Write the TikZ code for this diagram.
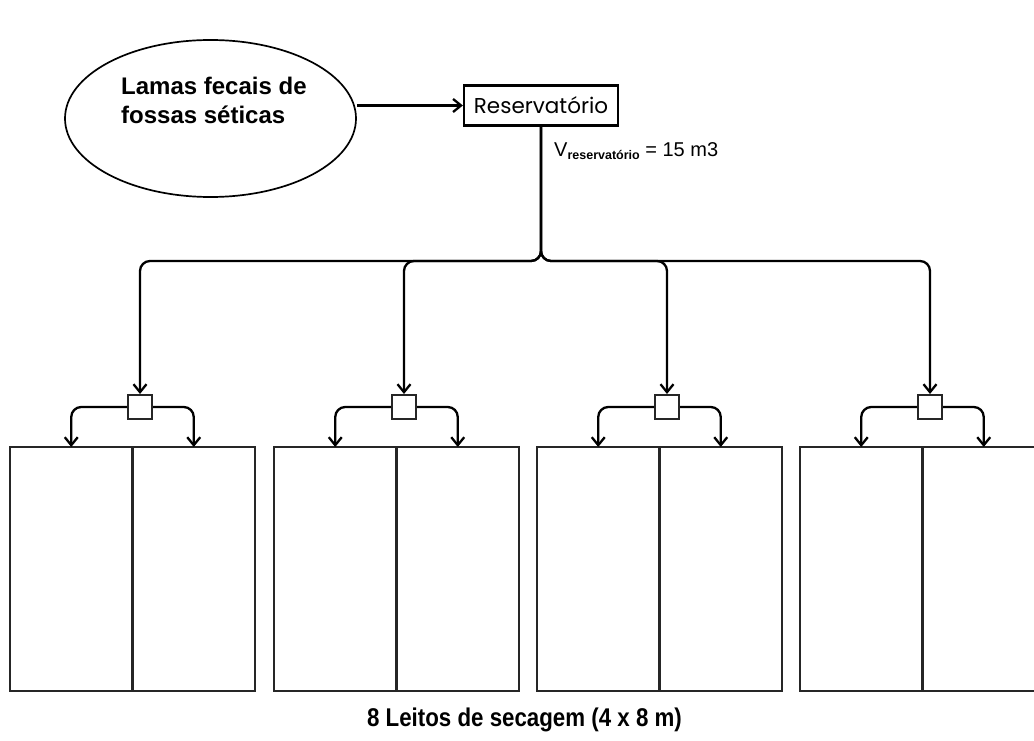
\documentclass[tikz,border=0pt]{standalone}
\usepackage{fontspec}
\setmainfont{Liberation Sans}
\newfontfamily\resfont{Poppins}
\usetikzlibrary{shapes.geometric,arrows.meta}
\begin{document}
\begin{tikzpicture}[x=1pt,y=-1pt,
  conn/.style={line width=2.3pt, rounded corners=10pt, -{Straight Barb[length=8pt,width=13pt,line width=2.3pt]}},
  bed/.style={draw=black!85, line width=2.2pt, minimum width=122.5pt, minimum height=244pt, anchor=north west, inner sep=0pt, outer sep=0pt},
  valve/.style={draw=black!85, line width=2pt, minimum size=24pt, inner sep=0pt, fill=white}]
\useasboundingbox (0,0) rectangle (1034,741);
\node[ellipse, draw, line width=1.7pt, minimum width=291pt, minimum height=157pt, inner sep=0pt] (src) at (210.5,118.5) {};
\node[anchor=north west, align=left, inner sep=0pt, font=\bfseries\fontsize{24}{29}\selectfont] (srctxt) at (121,77) {Lamas fecais de\\fossas séticas};
\node[draw, line width=2.2pt, minimum width=154pt, minimum height=40pt, inner sep=0pt, font=\resfont\fontsize{21.5}{24}\selectfont] (res) at (541,105.5) {Reservatório};
\draw[conn] (res.west -| src.east) -- (res.west);
\node[anchor=west, inner sep=0pt, font=\fontsize{20}{22}\selectfont] (vlab) at (554,151) {V\raisebox{-3pt}{\fontsize{12.5}{14}\selectfont\bfseries reservatório} = 15 m3};
\coordinate (split) at (541,261);
\foreach \i/\g in {1/10, 2/274, 3/537, 4/800} {
  \node[bed] (b\i a) at (\g,447) {};
  \node[bed] (b\i b) at (\g+122.5,447) {};
  \node[valve] (v\i) at (\g+130,407) {};
  \draw[conn] (res.south) -- (split) -- (split -| v\i.north) -- (v\i.north);
  \draw[conn] (v\i.west) -| (b\i a.north);
  \draw[conn] (v\i.east) -| (b\i b.north);
}
\node[inner sep=0pt, font=\bfseries\fontsize{22.3}{26}\selectfont] (cap) at (524.5,720) {\scalebox{1}[1.15]{8 Leitos de secagem (4 x 8 m)}};
\end{tikzpicture}
\end{document}
